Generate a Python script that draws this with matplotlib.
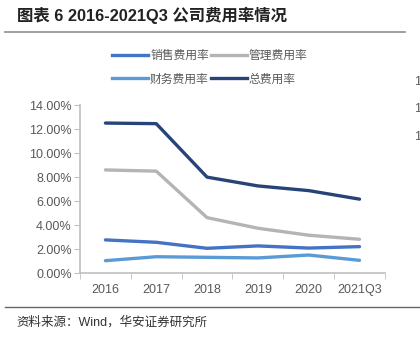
import matplotlib
matplotlib.use("Agg")
import matplotlib.pyplot as plt
from matplotlib.lines import Line2D
from matplotlib.ticker import FuncFormatter, FixedLocator

plt.rcParams['font.family'] = ['Liberation Sans', 'Noto Sans CJK SC', 'DejaVu Sans']

years = ["2016", "2017", "2018", "2019", "2020", "2021Q3"]
sales = [2.78, 2.58, 2.08, 2.28, 2.10, 2.22]
admin = [8.60, 8.50, 4.63, 3.75, 3.17, 2.83]
finance = [1.05, 1.38, 1.33, 1.28, 1.52, 1.08]
total = [12.50, 12.45, 8.00, 7.27, 6.88, 6.17]

names = ["销售费用率", "管理费用率", "财务费用率", "总费用率"]
colors = ["#4472C4", "#B4B4B4", "#5B9BD5", "#264478"]

fig = plt.figure(figsize=(4.2, 3.41), dpi=100)
ax = fig.add_axes([0.1905, 0.1985, 0.726, 0.4935])

x = list(range(len(years)))
for vals, c in zip([sales, admin, finance, total], colors):
    ax.plot(x, vals, color=c, lw=2.4, solid_capstyle='round')

ax.set_xlim(-0.5, len(years) - 0.5)
ax.set_ylim(0, 14)
ax.set_yticks([0, 2, 4, 6, 8, 10, 12, 14])
ax.yaxis.set_major_formatter(FuncFormatter(lambda v, p: "%.2f%%" % v))
ax.set_xticks(x)
ax.set_xticklabels(years)
ax.xaxis.set_minor_locator(FixedLocator([i - 0.5 for i in range(len(years) + 1)]))
ax.tick_params(axis='x', which='major', length=0, pad=8, labelsize=9, labelcolor='#595959')
ax.tick_params(axis='x', which='minor', length=4, color='#BFBFBF', direction='out')
ax.tick_params(axis='y', length=4, color='#BFBFBF', labelsize=9, labelcolor='#595959', pad=2)
for s in ['top', 'right']:
    ax.spines[s].set_visible(False)
for s in ['left', 'bottom']:
    ax.spines[s].set_color('#BFBFBF')
    ax.spines[s].set_linewidth(1.2)

# legend fills column by column, so order to read row by row
order = [0, 2, 1, 3]
handles = [Line2D([], [], color=colors[i], lw=2.4) for i in order]
fig.legend(handles, [names[i] for i in order], ncol=2, loc='center', bbox_to_anchor=(0.5, 0.803),
           frameon=False, handlelength=3.0, handletextpad=0.2, columnspacing=0.2,
           labelspacing=0.9, prop={'family': ['Noto Sans CJK SC'], 'size': 8.5},
           labelcolor='#595959')

fig.text(0.04, 0.955, "图表 6 2016-2021Q3 公司费用率情况", fontsize=11.8, fontweight='bold',
         color='#222222', va='center', ha='left')
fig.add_artist(Line2D([0.012, 0.965], [0.906, 0.906], color='#999999', lw=1.3))
fig.add_artist(Line2D([0.012, 1.0], [0.1, 0.1], color='#666666', lw=1.0))
fig.text(0.04, 0.055, "资料来源：Wind，华安证券研究所", fontsize=9, color='#333333',
         va='center', ha='left')

for yy in [0.76, 0.68, 0.598]:
    fig.text(0.985, yy, "1", fontsize=9, color='#595959', va='center', ha='left')

fig.savefig("out.png", dpi=100)
